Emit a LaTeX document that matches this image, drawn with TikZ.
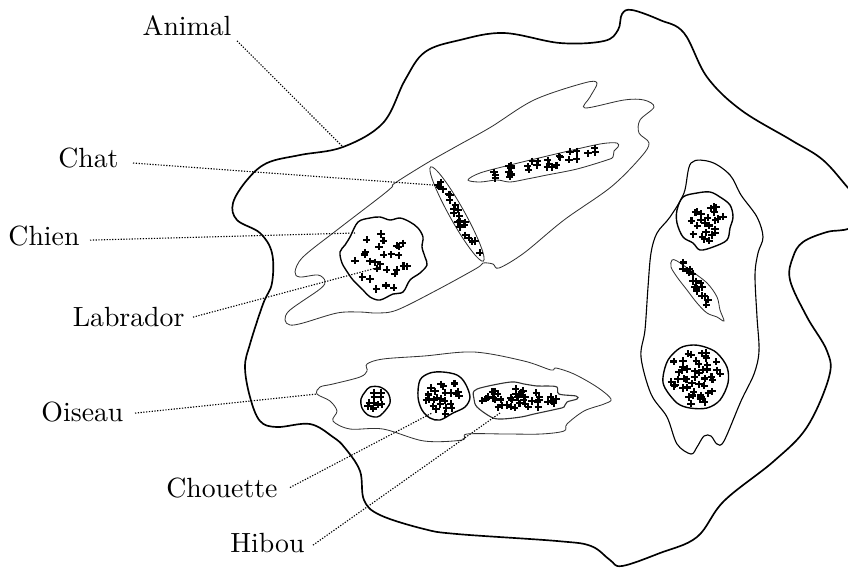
\documentclass[tikz,border=0pt]{standalone}
\newcommand\plusblob[6]{%
  \foreach \k in {1,...,#6}{%
    \pgfmathsetmacro\pa{\k*137.508+25*rand}%
    \pgfmathsetmacro\pr{min(1,max(0,sqrt((\k-0.5)/#6)+0.1*rand))}%
    \pgfmathsetmacro\pu{#3*\pr*cos(\pa)}%
    \pgfmathsetmacro\pv{#4*\pr*sin(\pa)}%
    \pgfmathsetmacro\px{#1+\pu*cos(#5)-\pv*sin(#5)}%
    \pgfmathsetmacro\py{#2+\pu*sin(#5)+\pv*cos(#5)}%
    \draw[plusmark] (\px-3.6,\py) -- (\px+3.6,\py) (\px,\py-3.6) -- (\px,\py+3.6);
  }}
\begin{document}
\begin{tikzpicture}[x=0.36pt,y=-0.36pt,
  outer/.style={line width=0.6pt},
  region/.style={line width=0.3pt, draw=black!80},
  blob/.style={line width=0.5pt},
  leader/.style={line width=0.4pt, dash pattern=on 0.45pt off 0.55pt},
  lbl/.style={inner sep=0pt, anchor=base east},
  plusmark/.style={line width=0.75pt}]
\clip (0,0) rectangle (848,568);
\pgfmathsetseed{11}

% Animal
\draw[outer] plot[smooth cycle, tension=0.6] coordinates {
 (741,110) (791,140) (823,160) (850,190) (870,210) (850,228) (827,232) (803,242) (793,257) (790,280)
 (807,317) (827,351) (829,377) (807,427) (774,461) (724,501) (697,537) (660,553) (622,566) (610,560)
 (591,546) (557,541) (457,534) (424,529) (380,515) (364,500) (360,471) (345,448) (333,437) (310,424)
 (277,427) (260,421) (250,397) (245,367) (250,344) (263,304) (272,283) (272,253) (260,233) (237,220)
 (233,203) (247,180) (267,163) (300,155) (343,147) (383,123) (405,80) (425,52) (460,40)
 (504,33) (560,43) (604,41) (618,30) (622,14) (632,10) (660,20) (684,33) (707,77)};

% mammal region
\draw[region] plot[smooth cycle, tension=0.55] coordinates {
 (285,320) (290,310) (320,289) (325,281) (318,275) (300,277) (295,272) (303,257) (337,230) (380,197)
 (392,187) (395,183) (427,163) (457,146) (491,127) (534,100) (584,83) (597,83) (590,97) (585,108)
 (624,100) (644,100) (654,107) (640,120) (639,133) (649,143) (641,157) (611,187) (564,220) (524,253)
 (499,268) (493,264) (483,263) (477,268) (437,290) (397,310) (377,313) (360,312) (337,313) (303,323) (290,325)};

% Chat ellipse
\draw[region, rotate around={-60.8:(457,214)}] (457,214) ellipse (54 and 7.5);
\plusblob{457}{214}{46}{4.5}{60.8}{22}

% upper thin mammal blob
\draw[region] plot[smooth cycle, tension=0.55] coordinates {
 (468,180) (480,173) (510,165) (560,153) (600,144) (617,143) (618,147) (614,151) (613,157) (607,160)
 (577,169) (547,175) (527,179) (510,182) (497,180) (480,182)};
\plusblob{544}{163}{62}{7}{-13.5}{28}

% Chien
\draw[blob] plot[smooth cycle, tension=0.55] coordinates {
 (358,222) (370,218) (380,217) (390,220) (400,218) (410,222) (418,228) (423,237) (422,247) (425,257)
 (427,265) (420,273) (410,280) (403,292) (393,294) (380,300) (370,297) (363,290) (353,280) (348,273)
 (342,263) (340,252) (345,245) (350,237)};
\plusblob{383}{260}{28}{30}{0}{27}

% right region
\draw[blob, line width=0.4pt] plot[smooth cycle, tension=0.55] coordinates {
 (691,163) (711,162) (730,175) (741,195) (757,217) (763,237) (758,253) (755,275) (757,317) (759,351)
 (754,374) (741,401) (724,441) (717,444) (711,436) (704,436) (697,447) (691,454) (677,444) (667,417)
 (651,394) (641,357) (645,330) (648,287) (651,253) (657,233) (670,217) (684,193)};

% right top circle
\draw[blob] plot[smooth cycle, tension=0.55] coordinates {
 (683,197) (697,193) (710,192) (720,197) (730,205) (733,217) (730,228) (727,240) (713,247) (700,250)
 (693,243) (683,237) (677,223) (677,210)};
\plusblob{707}{222}{18}{19}{0}{24}

% right middle elongated
\draw[region] plot[smooth cycle, tension=0.55] coordinates {
 (672,260) (677,261) (690,270) (707,283) (717,297) (720,310) (724,321) (717,317) (707,313) (697,303)
 (687,290) (677,277) (671,267)};
\plusblob{696}{284}{27}{5}{57}{17}

% right bottom circle
\draw[blob] plot[smooth cycle, tension=0.55] coordinates {
 (693,345) (705,347) (717,353) (727,367) (728,383) (720,400) (707,408) (690,408) (677,403) (665,388)
 (663,377) (668,360) (680,348)};
\plusblob{695}{377}{26}{27}{0}{48}

% bird region
\draw[region] plot[smooth cycle, tension=0.55] coordinates {
 (317,394) (320,387) (333,384) (360,377) (367,371) (367,364) (383,359) (424,356) (474,352) (524,361)
 (551,370) (556,368) (574,374) (597,387) (611,399) (604,404) (584,411) (567,424) (564,431) (541,434)
 (507,434) (467,434) (462,440) (424,441) (383,429) (350,429) (333,421) (337,411) (330,401)};

% small bird circle
\draw[blob] plot[smooth cycle, tension=0.55] coordinates {
 (365,392) (370,387) (380,387) (388,393) (390,403) (383,413) (377,417) (368,415) (362,408) (361,399)};
\plusblob{375}{401}{9}{11}{0}{10}

% Chouette
\draw[blob] plot[smooth cycle, tension=0.55] coordinates {
 (420,380) (430,373) (443,372) (457,375) (465,383) (470,397) (465,407) (453,413) (440,420) (430,418)
 (422,410) (418,397)};
\plusblob{443}{397}{19}{17}{0}{24}

% Hibou
\draw[region, line width=0.4pt] plot[smooth cycle, tension=0.55] coordinates {
 (474,391) (484,387) (511,382) (524,384) (537,386) (547,386) (557,387) (559,394) (576,396) (577,399)
 (567,402) (564,407) (557,409) (534,414) (521,417) (501,419) (491,417) (477,407) (474,399)};
\plusblob{518}{399}{40}{10}{0}{38}

% labels
\node[lbl] (animal) at (232,35) {Animal};
\node[lbl] (chat) at (119,167) {Chat};
\node[lbl] (chien) at (80,245) {Chien};
\node[lbl] (labrador) at (185,326) {Labrador};
\node[lbl] (oiseau) at (124,421) {Oiseau};
\node[lbl] (chouette) at (278,497) {Chouette};
\node[lbl] (hibou) at (305,552) {Hibou};

\coordinate (animalend) at (343,147);
\coordinate (chatend) at (433,185);
\coordinate (chienend) at (355,233);
\coordinate (labradorend) at (380,267);
\coordinate (oiseauend) at (317,394);
\coordinate (chouetteend) at (432,413);
\coordinate (hibouend) at (500,413);

\draw[leader] ([shift={(5,5)}]animal.south east) -- (animalend);
\draw[leader] ([shift={(14,5.5)}]chat.east) -- (chatend);
\draw[leader] ([shift={(10,4.6)}]chien.east) -- (chienend);
\draw[leader] ([shift={(8,0.6)}]labrador.east) -- (labradorend);
\draw[leader] ([shift={(11,1.6)}]oiseau.east) -- (oiseauend);
\draw[leader] ([shift={(12,0)}]chouette.east) -- (chouetteend);
\draw[leader] ([shift={(8,2.6)}]hibou.east) -- (hibouend);
\end{tikzpicture}
\end{document}
